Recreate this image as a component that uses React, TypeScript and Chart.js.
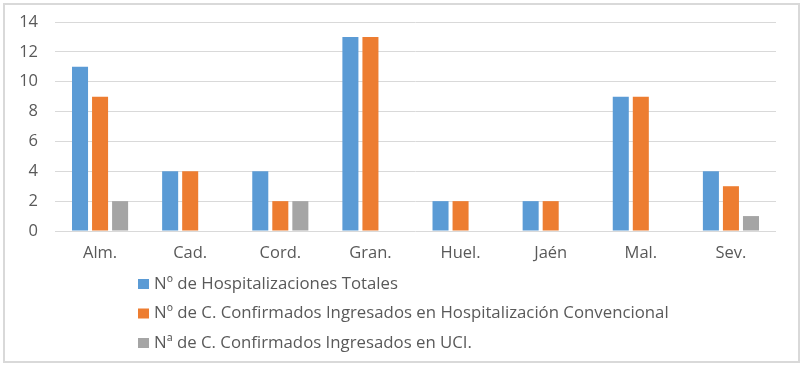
import React, { useEffect, useRef } from "react";
import { Chart, registerables } from "chart.js";
Chart.register(...registerables);

const categories = ["Alm.", "Cad.", "Cord.", "Gran.", "Huel.", "Jaén", "Mal.", "Sev."];
const totalHosp = [11, 4, 4, 13, 2, 2, 9, 4];
const convHosp = [9, 4, 2, 13, 2, 2, 9, 3];
const uciHosp = [2, 0, 2, 0, 0, 0, 0, 1];
const seriesLabels = [
  "Nº de Hospitalizaciones Totales",
  "Nº de C. Confirmados Ingresados en Hospitalización Convencional",
  "Nª de C. Confirmados Ingresados en UCI.",
];
const seriesColors = ["#5b9bd5", "#ed7d31", "#a5a5a5"];
const yMin = 0;
const yMax = 14;
const yStep = 2;

const FONT = "'Open Sans', 'Noto Sans', sans-serif";
const TEXT = "#595959";

const legendPlugin = {
  id: "verticalLegend",
  afterDraw(chart: any) {
    const { ctx, chartArea } = chart;
    ctx.save();
    ctx.font = `16.8px ${FONT}`;
    ctx.textBaseline = "middle";
    ctx.textAlign = "left";
    chart.data.datasets.forEach((ds: any, i: number) => {
      const y = chartArea.bottom + 53 + i * 29.5;
      ctx.fillStyle = ds.backgroundColor;
      ctx.fillRect(138, y - 5, 11, 10);
      ctx.fillStyle = TEXT;
      ctx.fillText(ds.label, 154, y);
    });
    ctx.restore();
  },
};

export default function App() {
  const ref = useRef<HTMLCanvasElement | null>(null);
  useEffect(() => {
    document.body.style.margin = "0";
    if (!ref.current) return;
    const chart = new Chart(ref.current, {
      type: "bar",
      data: {
        labels: categories,
        datasets: [totalHosp, convHosp, uciHosp].map((d, i) => ({
          label: seriesLabels[i],
          data: d,
          backgroundColor: seriesColors[i],
          borderWidth: 0,
          categoryPercentage: 0.667,
          barPercentage: 0.8,
        })),
      },
      options: {
        animation: false,
        responsive: false,
        maintainAspectRatio: false,
        layout: { padding: { top: 22, right: 30, left: 0, bottom: 0 } },
        plugins: { legend: { display: false }, tooltip: { enabled: false } },
        scales: {
          x: {
            grid: { display: false },
            border: { display: false },
            ticks: { color: TEXT, font: { family: FONT, size: 16.5 }, padding: 4 },
            afterFit(scale: any) {
              scale.height = 137;
            },
          },
          y: {
            min: yMin,
            max: yMax,
            ticks: { stepSize: yStep, color: TEXT, font: { family: FONT, size: 16.5 }, padding: 17 },
            grid: { color: "#d9d9d9", lineWidth: 1, drawTicks: false },
            border: { display: false },
            afterFit(scale: any) {
              scale.width = 55;
              scale.paddingTop = 0;
              scale.paddingBottom = 0;
            },
          },
        },
      },
      plugins: [legendPlugin],
    });
    return () => chart.destroy();
  }, []);
  return (
    <div style={{ position: "relative", width: 806, height: 368, background: "#fff" }}>
      <div
        style={{
          position: "absolute",
          left: 3,
          top: 3,
          width: 797,
          height: 360,
          boxSizing: "border-box",
          border: "2px solid #d9d9d9",
        }}
      />
      <canvas ref={ref} width={806} height={368} style={{ position: "absolute", left: 0, top: 0 }} />
    </div>
  );
}
